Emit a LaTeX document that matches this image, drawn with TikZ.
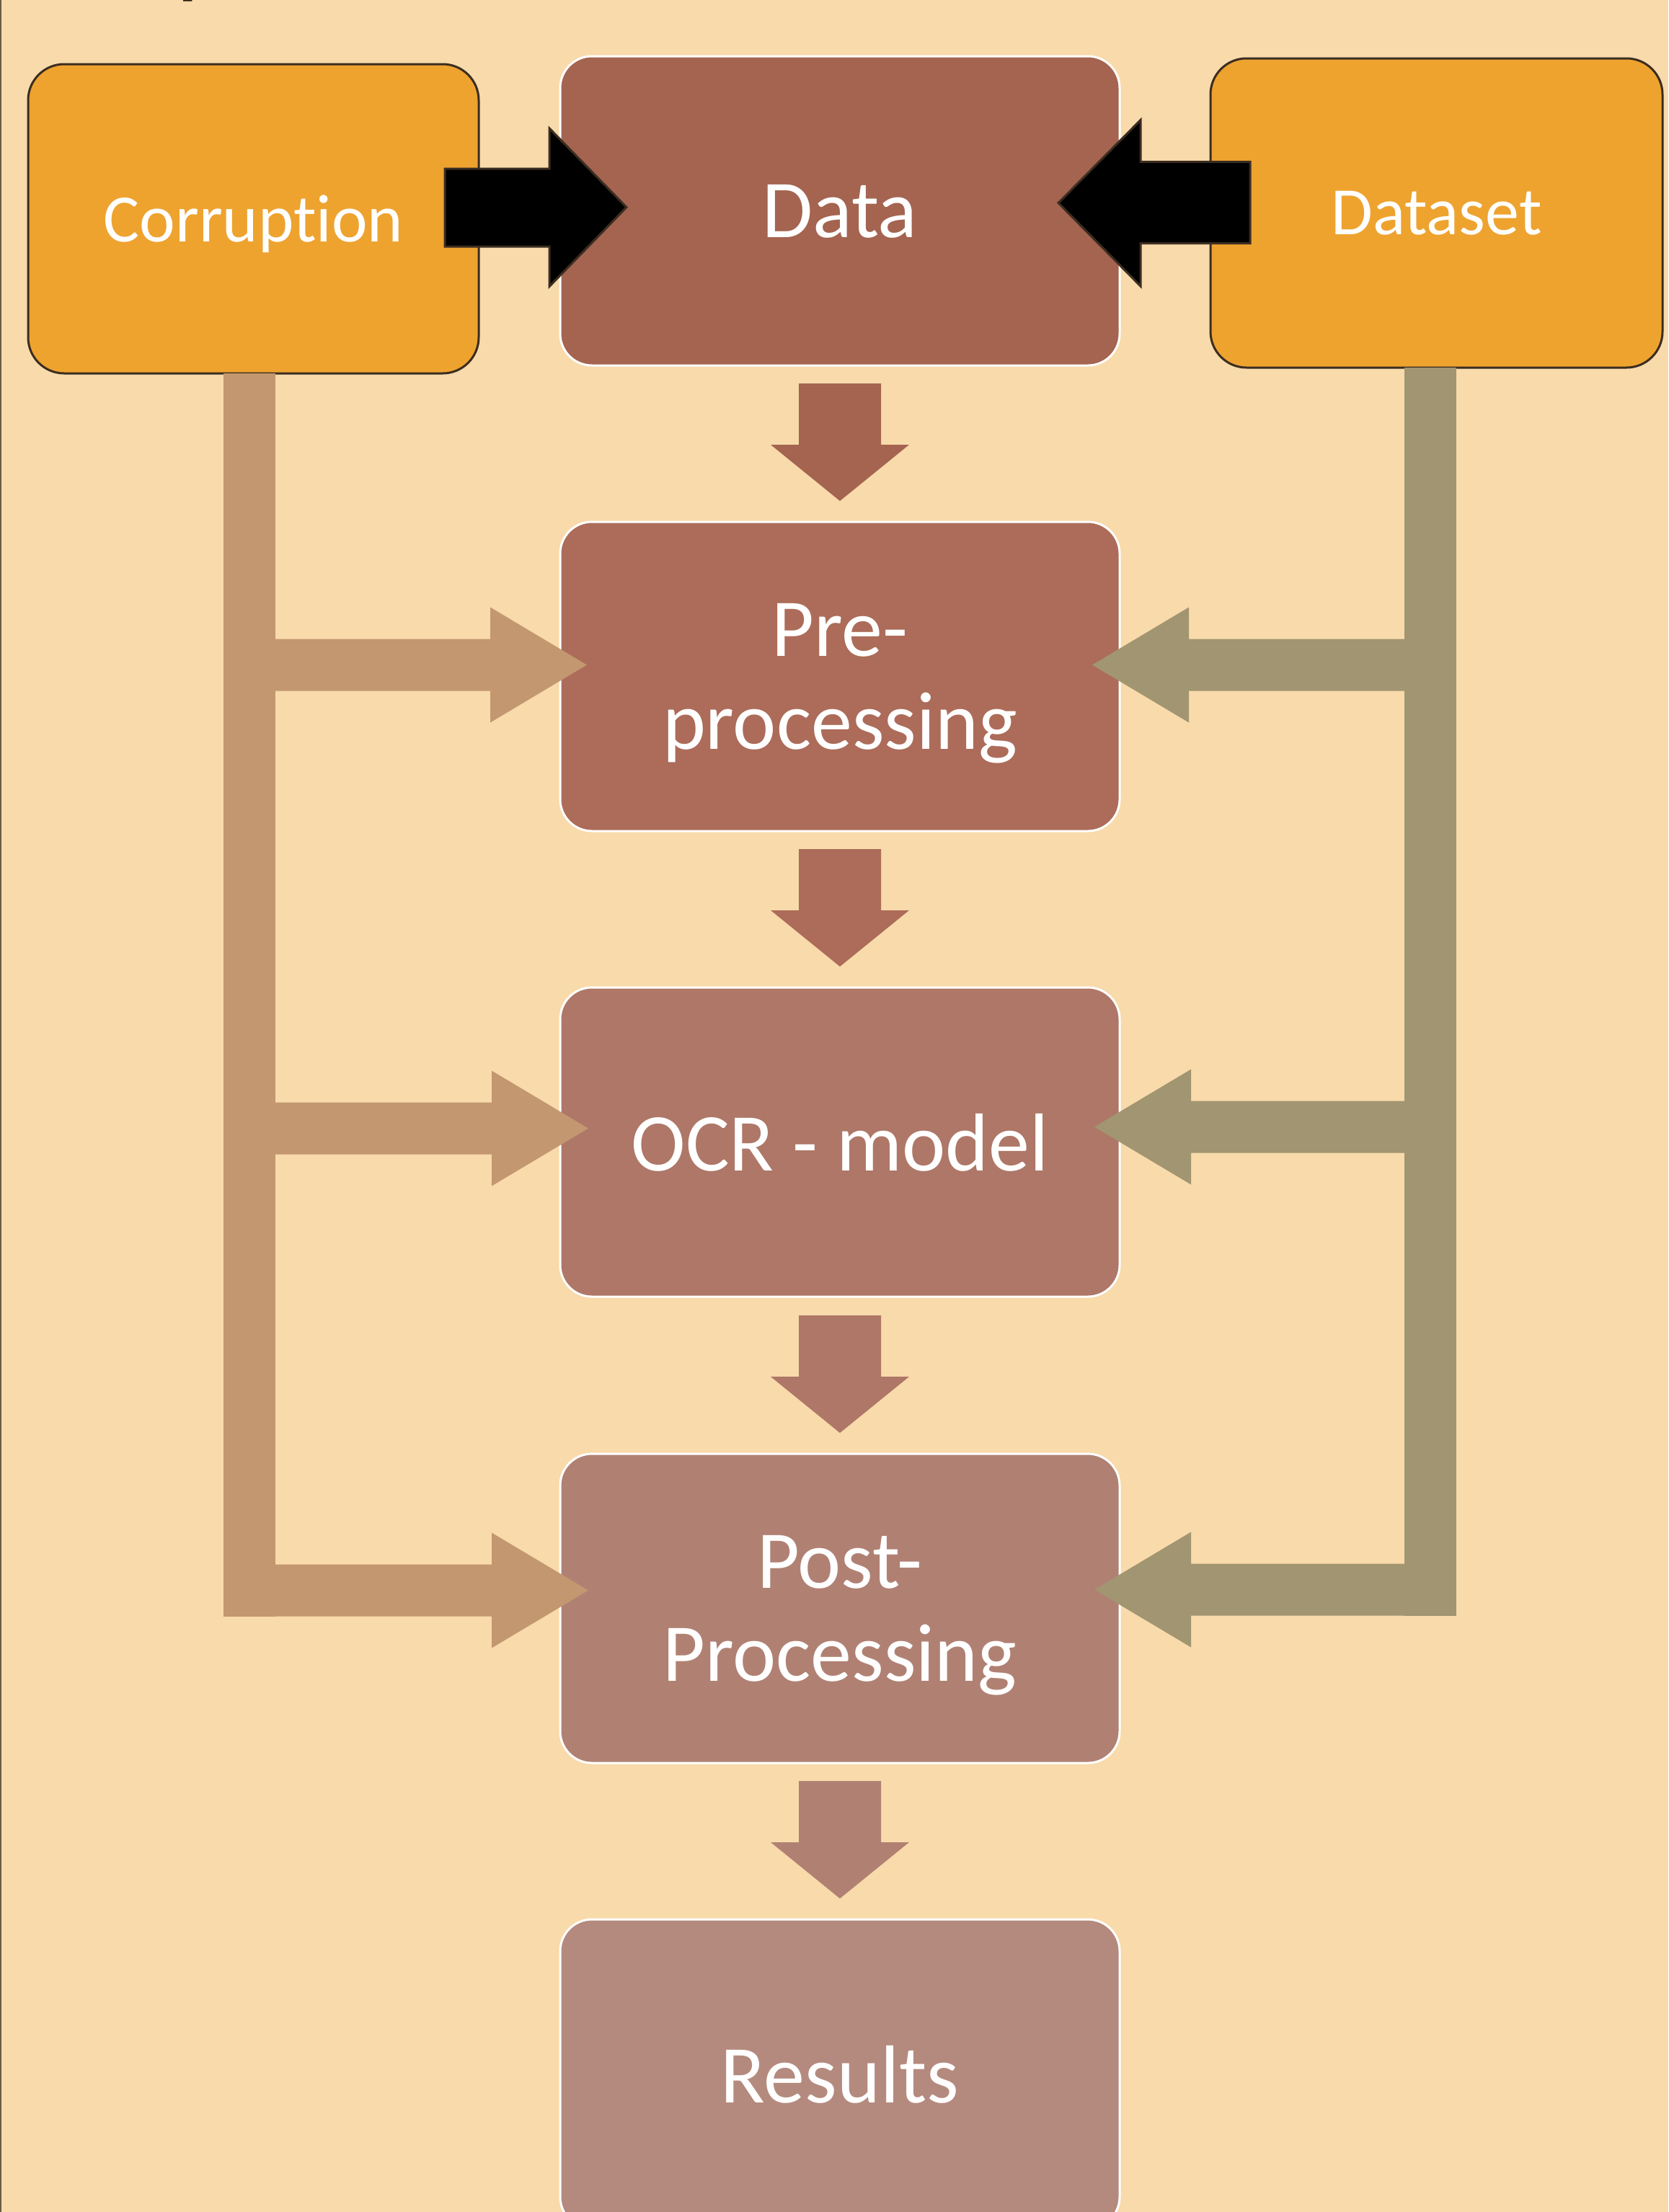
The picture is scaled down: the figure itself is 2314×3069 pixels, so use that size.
\documentclass[tikz,border=0pt]{standalone}
\usepackage{fontspec}
\setmainfont{Carlito}[Ligatures=NoCommon]
\usetikzlibrary{positioning,calc}
\definecolor{bgcol}{HTML}{F8DAAB}
\definecolor{srccol}{HTML}{EEA32F}
\definecolor{edgecol}{HTML}{3B2D21}
\definecolor{cdata}{HTML}{A46450}
\definecolor{cpre}{HTML}{AC6C59}
\definecolor{cocr}{HTML}{AE7767}
\definecolor{cpost}{HTML}{B08173}
\definecolor{cres}{HTML}{B58A7E}
\definecolor{ctan}{HTML}{C39770}
\definecolor{colive}{HTML}{A29571}
\definecolor{framecol}{HTML}{6A5A48}
\definecolor{titlecol}{HTML}{2A2010}

\begin{document}
\begin{tikzpicture}[x=0.5pt,y=-0.5pt,
				every node/.style={text=white,text depth=0pt,outer sep=0pt,align=center},
				stage/.style={rectangle,rounded corners=22pt,draw=white,line width=1.5pt,
					minimum width=388pt,minimum height=214.5pt,font=\fontsize{57pt}{64.5pt}\selectfont},
				source/.style={rectangle,rounded corners=25pt,draw=edgecol,line width=1.5pt,fill=srccol,
					minimum height=214.5pt,font=\fontsize{47pt}{56pt}\selectfont},
				push/.style={fill=black,draw=edgecol,line width=1.5pt,line join=miter}]
				\fill[bgcol] (0,0) rectangle (2314,3069);
				\useasboundingbox (0,0) rectangle (2314,3069);
				\draw[line width=1pt,framecol] (1,0) -- (1,3069);
				\node (TTL)   [anchor=base west,inner sep=0pt,text=titlecol,
					font=\fontsize{50pt}{50pt}\selectfont\bfseries] at (248,-14) {p};
				
				\node (DATA)  [stage,fill=cdata] at (1165,292.5)          {Data};
				\node (PRE)   [stage,fill=cpre,below=108.5pt of DATA]     {Pre-\\processing};
				\node (OCR)   [stage,fill=cocr,below=108.5pt of PRE]      {OCR - model};
				\node (POST)  [stage,fill=cpost,below=109pt of OCR]       {Post-\\Processing};
				\node (RES)   [stage,fill=cres,below=108.5pt of POST]     {Results};
				\node (CORR)  [source,minimum width=312.5pt,left=56.5pt of DATA,yshift=-5.5pt] {Corruption};
				\node (DSET)  [source,minimum width=313.5pt,right=63pt of DATA,yshift=-1.5pt]  {Dataset};
				
				\coordinate (LB)    at ($(CORR.south)+(-6,0)$);
				\coordinate (RB)    at ($(DSET.south)+(-8.5,0)$);
				\coordinate (PREL)  at ($(PRE.west)+(37,-16)$);
				\coordinate (OCRL)  at ($(OCR.west)+(39,-19)$);
				\coordinate (POSTL) at ($(POST.west)+(39,-25)$);
				\coordinate (PRER)  at ($(PRE.east)+(-38,-16)$);
				\coordinate (OCRR)  at ($(OCR.east)+(-35,-21)$);
				\coordinate (POSTR) at ($(POST.east)+(-35,-26)$);
				\coordinate (BL)    at ($(DATA.west)+(92,-5)$);
				\coordinate (BR)    at ($(DATA.east)+(-85,-11)$);
				
				\fill[ctan] ($(LB)+(-36,0)$) rectangle ($(LB |- POSTL)+(36,36)$);
				\fill[ctan] (PREL) -- ++(-134,-80) -- ++(0,44) -- ++(-330,0) -- ++(0,72) -- ++(330,0) -- ++(0,44) -- cycle;
				\fill[ctan] (OCRL) -- ++(-134,-80) -- ++(0,44) -- ++(-330,0) -- ++(0,72) -- ++(330,0) -- ++(0,44) -- cycle;
				\fill[ctan] (POSTL) -- ++(-134,-80) -- ++(0,44) -- ++(-330,0) -- ++(0,72) -- ++(330,0) -- ++(0,44) -- cycle;
				
				\fill[colive] ($(RB)+(-36,0)$) rectangle ($(RB |- POSTR)+(36,36)$);
				\fill[colive] (PRER) -- ++(134,-80) -- ++(0,44) -- ++(330,0) -- ++(0,72) -- ++(-330,0) -- ++(0,44) -- cycle;
				\fill[colive] (OCRR) -- ++(134,-80) -- ++(0,44) -- ++(330,0) -- ++(0,72) -- ++(-330,0) -- ++(0,44) -- cycle;
				\fill[colive] (POSTR) -- ++(134,-80) -- ++(0,44) -- ++(330,0) -- ++(0,72) -- ++(-330,0) -- ++(0,44) -- cycle;
				
				\fill[cdata] ($(PRE.north)+(0,-29)$) -- ++(-96,-78) -- ++(39,0) -- ++(0,-85) -- ++(114,0) -- ++(0,85) -- ++(39,0) -- cycle;
				\fill[cpre] ($(OCR.north)+(0,-29)$) -- ++(-96,-78) -- ++(39,0) -- ++(0,-85) -- ++(114,0) -- ++(0,85) -- ++(39,0) -- cycle;
				\fill[cocr] ($(POST.north)+(0,-29)$) -- ++(-96,-78) -- ++(39,0) -- ++(0,-85) -- ++(114,0) -- ++(0,85) -- ++(39,0) -- cycle;
				\fill[cpost] ($(RES.north)+(0,-29)$) -- ++(-96,-78) -- ++(39,0) -- ++(0,-85) -- ++(114,0) -- ++(0,85) -- ++(39,0) -- cycle;
				
				\filldraw[push] (BL) -- ++(-107,-109.5) -- ++(0,56) -- ++(-145,0) -- ++(0,108) -- ++(145,0) -- ++(0,55.5) -- cycle;
				\filldraw[push] (BR) -- ++(114,-115) -- ++(0,58) -- ++(152,0) -- ++(0,113) -- ++(-152,0) -- ++(0,59.5) -- cycle;
			\end{tikzpicture}
\end{document}
